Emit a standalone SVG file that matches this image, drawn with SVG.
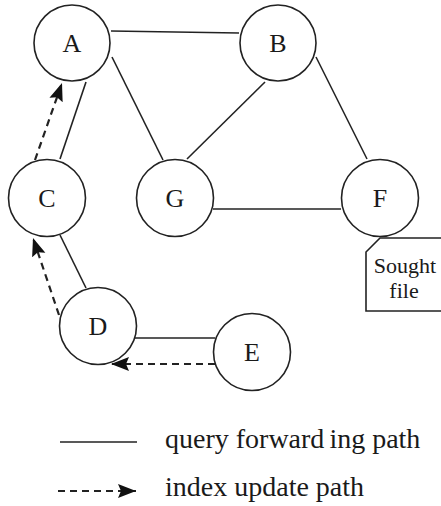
<svg xmlns="http://www.w3.org/2000/svg" width="441" height="506" viewBox="0 0 441 506">
<style>
  .edge { stroke: #222; stroke-width: 1.6; fill: none; }
  .dash { stroke: #222; stroke-width: 2.2; fill: none; stroke-dasharray: 7 5; }
  .node circle { fill: #fff; stroke: #222; stroke-width: 1.6; }
  .lbl { font-family: 'Liberation Serif', 'DejaVu Serif', 'Times New Roman', serif; font-size: 26px; fill: #1a1a1a; text-anchor: middle; }
  .txt { font-family: 'Liberation Serif', 'DejaVu Serif', 'Times New Roman', serif; fill: #1a1a1a; }
</style>
<defs>
  <marker id="arr" markerUnits="userSpaceOnUse" markerWidth="19" markerHeight="15" refX="18" refY="7" orient="auto">
    <path d="M0,0 L18,7 L0,14 L3,7 z" fill="#111"/>
  </marker>
</defs>
<rect width="441" height="506" fill="#fff"/>
<g id="connectors">
  <line class="edge" x1="111" y1="31" x2="239" y2="33"/>
  <line class="edge" x1="112" y1="57" x2="163" y2="160"/>
  <line class="edge" x1="86" y1="82" x2="60" y2="159"/>
  <line class="edge" x1="265" y1="82" x2="187" y2="159"/>
  <line class="edge" x1="316" y1="57" x2="367" y2="159"/>
  <line class="edge" x1="213" y1="209" x2="341" y2="209"/>
  <line class="edge" x1="60" y1="235" x2="86" y2="288"/>
  <line class="edge" x1="134" y1="338" x2="215" y2="338"/>
  <line class="dash" x1="35" y1="160" x2="62" y2="83" marker-end="url(#arr)"/>
  <line class="dash" x1="59" y1="315" x2="33" y2="238" marker-end="url(#arr)"/>
  <line class="dash" x1="215" y1="364" x2="111" y2="364" marker-end="url(#arr)"/>
</g>
<g id="node-A" class="node"><circle cx="72" cy="43" r="38"/><text class="lbl" x="72" y="52">A</text></g>
<g id="node-B" class="node"><circle cx="278" cy="43" r="38"/><text class="lbl" x="278" y="52">B</text></g>
<g id="node-C" class="node"><circle cx="47" cy="198" r="38.5"/><text class="lbl" x="47" y="207">C</text></g>
<g id="node-G" class="node"><circle cx="175" cy="198" r="38.5"/><text class="lbl" x="175" y="207">G</text></g>
<g id="node-F" class="node"><circle cx="380" cy="198" r="38.5"/><text class="lbl" x="380" y="207">F</text></g>
<g id="node-D" class="node"><circle cx="98" cy="326" r="38.5"/><text class="lbl" x="98" y="335">D</text></g>
<g id="node-E" class="node"><circle cx="252" cy="352" r="38.5"/><text class="lbl" x="252" y="361">E</text></g>
<g id="note-sought-file">
  <path class="edge" d="M441,238 H380 L366,252 V311 H441"/>
  <text class="txt" font-size="22" text-anchor="middle" x="405" y="273">Sought</text>
  <text class="txt" font-size="22" text-anchor="middle" x="404" y="298">file</text>
</g>
<g id="legend">
  <line class="edge" x1="60" y1="442" x2="137" y2="442"/>
  <text class="txt" font-size="28" x="165" y="448">query forward<tspan dx="5">ing path</tspan></text>
  <line class="dash" x1="58" y1="491" x2="136" y2="491" marker-end="url(#arr)"/>
  <text class="txt" font-size="28" x="165" y="496">index update path</text>
</g>
</svg>
